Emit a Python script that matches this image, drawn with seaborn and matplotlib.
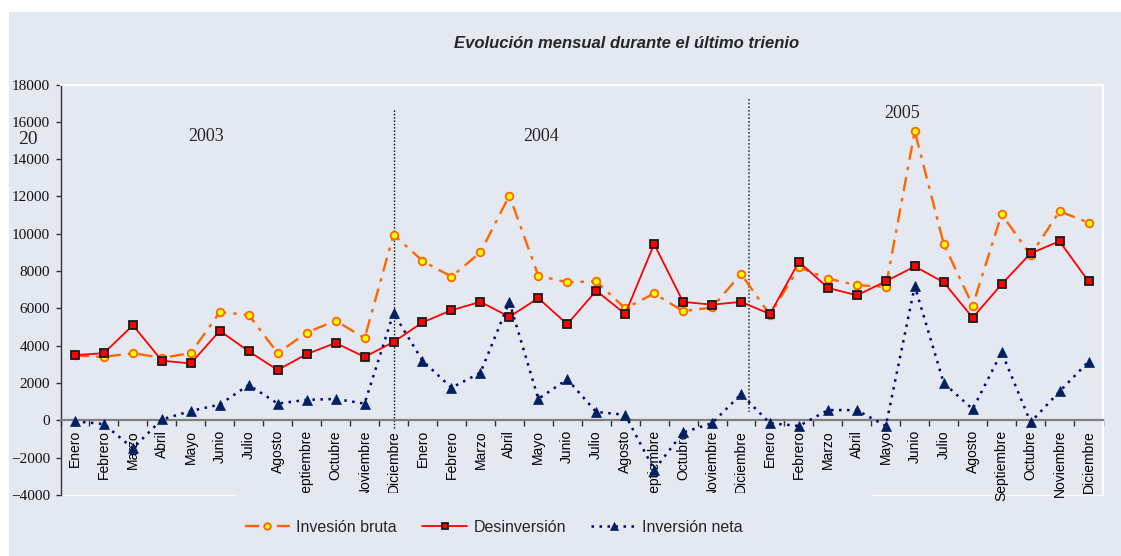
import numpy as np
import pandas as pd
import matplotlib
matplotlib.use("Agg")
import matplotlib.pyplot as plt
import seaborn as sns
from matplotlib.transforms import Bbox, TransformedBbox
from matplotlib.lines import Line2D
from matplotlib.patches import Rectangle

# ---------------- data ----------------
meses = ["Enero", "Febrero", "Marzo", "Abril", "Mayo", "Junio", "Julio",
         "Agosto", "Septiembre", "Octubre", "Noviembre", "Diciembre"]
periodos = meses * 3
anios = ["2003", "2004", "2005"]

inversion_bruta = [3480, 3400, 3600, 3350, 3600, 5800, 5650, 3600, 4700, 5350, 4400, 9950,
                   8550, 7700, 9000, 12050, 7750, 7400, 7450, 6000, 6800, 5850, 6050, 7850,
                   5650, 8200, 7600, 7250, 7150, 15500, 9450, 6150, 11050, 8850, 11200, 10600]
desinversion = [3500, 3600, 5100, 3200, 3050, 4800, 3700, 2700, 3550, 4150, 3400, 4200,
                5250, 5900, 6350, 5550, 6550, 5150, 6950, 5700, 9450, 6350, 6200, 6350,
                5700, 8500, 7100, 6700, 7450, 8250, 7400, 5500, 7300, 8950, 9600, 7450]
inversion_neta = [-50, -200, -1500, 50, 500, 850, 1900, 900, 1100, 1150, 900, 5750,
                  3200, 1750, 2550, 6350, 1150, 2200, 450, 300, -2650, -650, -150, 1400,
                  -150, -300, 550, 550, -300, 7200, 2000, 600, 3650, -100, 1550, 3150]

titulo = "Evolución mensual durante el último trienio"
nombres = ["Invesión bruta", "Desinversión", "Inversión neta"]

# ---------------- figure ----------------
sns.set_theme(style="white")
plt.rcParams["font.family"] = ["Liberation Sans", "DejaVu Sans"]

W, H = 1121, 556
fig = plt.figure(figsize=(W / 100, H / 100), dpi=100)
fig.patch.set_facecolor("white")
bg = "#E4E8F0"
fig.patches.append(Rectangle((9 / W, 0), 1 - 9 / W, (H - 12) / H, transform=fig.transFigure,
                             facecolor=bg, edgecolor="none", zorder=-10))

ax = fig.add_axes([60.5 / W, (H - 495) / H, (1103 - 60.5) / W, (495 - 84.5) / H])
ax.set_facecolor(bg)

x = np.arange(len(periodos))
df = pd.DataFrame({"idx": x, "bruta": inversion_bruta, "desinv": desinversion,
                   "neta": inversion_neta})

sns.lineplot(data=df, x="idx", y="bruta", ax=ax, color="#FF6600", lw=1.7,
             linestyle=(0, (6, 3, 1.5, 3)), marker="o", markersize=5.5,
             markerfacecolor="#FFFF00", markeredgecolor="#FF6600", markeredgewidth=1.3,
             label=nombres[0], errorbar=None, zorder=3)
sns.lineplot(data=df, x="idx", y="desinv", ax=ax, color="#FF0000", lw=1.3,
             linestyle="-", marker="s", markersize=5.5,
             markerfacecolor="#FF0000", markeredgecolor="#1a1a1a", markeredgewidth=1.3,
             label=nombres[1], errorbar=None, zorder=4)
sns.lineplot(data=df, x="idx", y="neta", ax=ax, color="#000080", lw=1.8,
             linestyle=(0, (1, 2.2)), marker="^", markersize=6.5,
             markerfacecolor="#002060", markeredgecolor="#002060", markeredgewidth=0.5,
             label=nombres[2], errorbar=None, zorder=5)

handles, labels = ax.get_legend_handles_labels()
if ax.get_legend() is not None:
    ax.get_legend().remove()

# year separators
ax.plot([11, 11], [16650, -430], color="black", lw=1, linestyle=(0, (1, 1.4)), zorder=2)
ax.plot([23.29, 23.29], [17200, 430], color="#444444", lw=1.2, linestyle=(0, (1, 1.2)), zorder=2)

# year labels
ax.text(4.54, 15200, anios[0], family="Liberation Serif", fontsize=13, ha="center", va="center")
ax.text(16.1, 15200, anios[1], family="Liberation Serif", fontsize=13, ha="center", va="center")
ax.text(28.57, 16440, anios[2], family="Liberation Serif", fontsize=13, ha="center", va="center")
fig.text(28 / W, 1 - 139 / H, "20", family="Liberation Serif", fontsize=14, ha="center", va="center")

# spines (set position first: it resets the ticks)
ax.spines["bottom"].set_position(("data", 0))
ax.spines["bottom"].set_color("#7f7f7f")
ax.spines["bottom"].set_linewidth(1.6)
ax.spines["left"].set_color("#333333")
ax.spines["left"].set_linewidth(1)
for s in ("top", "right"):
    ax.spines[s].set_color("white")
    ax.spines[s].set_linewidth(1.5)

# axes limits & ticks
ax.set_xlim(-0.5, 35.5)
ax.set_ylim(-4000, 18000)
ax.set_yticks(np.arange(-4000, 18001, 2000))
ax.set_xticks(x)
ax.set_xticks(np.arange(-0.5, 36, 1), minor=True)
ax.set_xlabel("")
ax.set_ylabel("")
ax.grid(False)

ax.tick_params(axis="x", which="major", length=0, pad=7, bottom=True, labelcolor="black")
ax.tick_params(axis="x", which="minor", length=4, width=1, direction="out", color="#333333",
               bottom=True)
ax.tick_params(axis="y", which="major", length=3.5, width=1, direction="out", color="#333333",
               left=True, pad=4, labelsize=11, labelcolor="#111111")
ax.set_xticklabels(periodos, rotation=90, fontsize=10, family="Liberation Sans")
for lab in ax.get_yticklabels():
    lab.set_fontfamily("Liberation Serif")

# bottom white border segments (behind the axes' labels)
for x0, x1 in ((61, 236), (872, 1103)):
    fig.add_artist(Line2D([x0 / W, x1 / W], [(H - 495) / H] * 2, transform=fig.transFigure,
                          color="white", lw=1.5, zorder=-5))

# clip the first two years' labels (as in the reference)
clip = TransformedBbox(Bbox([[0, (H - 493) / H], [1, 1]]), fig.transFigure)
for i, lab in enumerate(ax.get_xticklabels()):
    if i < 24:
        lab.set_clip_on(True)
        lab.set_clip_box(clip)

# title
fig.text(627 / W, 1 - 43 / H, titulo, ha="center", va="center", fontsize=12,
         fontweight="bold", fontstyle="italic", family="Liberation Sans")

# legend
fig.legend(handles, labels, loc="center", bbox_to_anchor=(494 / W, 1 - 527 / H), ncol=3,
           frameon=False, fontsize=11.5, handlelength=2.8, handletextpad=0.4,
           columnspacing=1.6, markerscale=0.85)

fig.savefig("out.png", dpi=100, facecolor=fig.get_facecolor())
